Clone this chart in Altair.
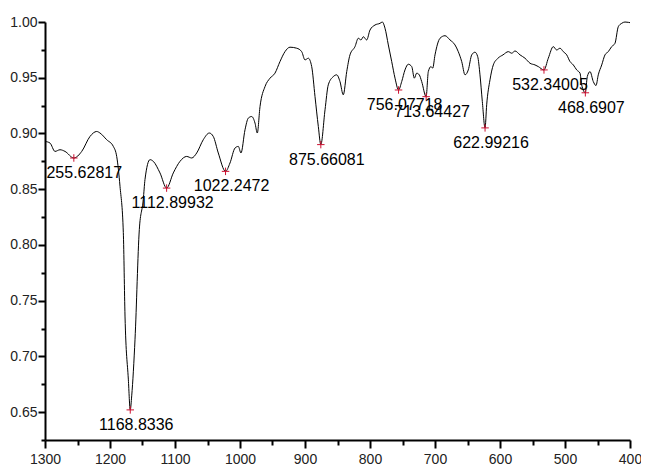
import altair as alt
import pandas as pd

# Spectrum trace (wavenumber, transmittance)
wavenumber = [
    1300.0, 1292.3, 1284.6, 1276.9, 1269.2, 1255.62817, 1243.5, 1230.8, 1220.5, 1215.4,
    1205.1, 1194.9, 1189.7, 1184.6, 1179.5, 1176.9, 1171.8, 1168.8336, 1166.6, 1161.5,
    1154.9, 1148.8, 1146.2, 1138.5, 1133.4, 1123.1, 1112.89932, 1102.6, 1092.3, 1082.0,
    1074.3, 1066.6, 1056.5, 1047.2, 1041.1, 1033.4, 1022.2472, 1015.4, 1007.7, 1002.6,
    998.5, 992.3, 987.2, 982.0, 976.9, 973.4, 969.2, 961.5, 953.8, 946.2,
    938.5, 930.8, 923.1, 912.8, 905.1, 900.0, 894.9, 889.7, 884.6, 879.5,
    875.66081, 869.2, 864.2, 856.5, 851.2, 846.2, 841.1, 835.8, 830.8, 823.1,
    818.0, 813.8, 810.3, 805.1, 800.0, 792.3, 784.6, 781.1, 776.9, 771.8,
    766.6, 761.5, 756.07718, 751.2, 746.2, 741.1, 735.8, 731.8, 728.2, 724.2,
    720.5, 713.64427, 710.3, 706.2, 703.5, 700.0, 692.3, 684.6, 676.9, 669.2,
    664.2, 658.9, 653.8, 648.8, 643.5, 638.5, 634.3, 630.8, 627.2, 622.99216,
    620.5, 615.4, 610.3, 603.1, 595.4, 587.2, 582.0, 576.9, 569.2, 561.5,
    553.8, 546.2, 541.1, 532.34005, 525.7, 518.0, 512.8, 507.7, 502.6, 497.4,
    492.3, 487.2, 482.0, 476.9, 474.3, 468.6907, 465.7, 461.5, 456.5, 452.3,
    448.8, 443.5, 438.5, 433.4, 428.2, 423.1, 418.0, 412.8, 407.7, 402.6,
    400.0,
]
transmittance = [
    0.8929, 0.8914, 0.8839, 0.8854, 0.8839, 0.8780, 0.8839, 0.8973, 0.9018, 0.9004,
    0.8944, 0.8884, 0.8794, 0.8526, 0.8111, 0.7362, 0.6796, 0.6520, 0.6646, 0.7154,
    0.8138, 0.8407, 0.8586, 0.8765, 0.8750, 0.8646, 0.8510, 0.8646, 0.8750, 0.8794,
    0.8780, 0.8825, 0.8944, 0.9004, 0.8973, 0.8825, 0.8660, 0.8735, 0.8869, 0.8884,
    0.8825, 0.9033, 0.9138, 0.9152, 0.9093, 0.9004, 0.9242, 0.9421, 0.9496, 0.9541,
    0.9645, 0.9734, 0.9774, 0.9765, 0.9734, 0.9660, 0.9675, 0.9600, 0.9331, 0.9063,
    0.8900, 0.9212, 0.9436, 0.9510, 0.9526, 0.9466, 0.9347, 0.9555, 0.9705, 0.9779,
    0.9854, 0.9839, 0.9868, 0.9839, 0.9928, 0.9973, 0.9988, 1.0000, 0.9944, 0.9794,
    0.9645, 0.9496, 0.9390, 0.9466, 0.9570, 0.9621, 0.9600, 0.9496, 0.9541, 0.9526,
    0.9466, 0.9330, 0.9555, 0.9600, 0.9586, 0.9705, 0.9854, 0.9877, 0.9839, 0.9794,
    0.9734, 0.9645, 0.9526, 0.9570, 0.9705, 0.9729, 0.9689, 0.9526, 0.9287, 0.9050,
    0.9257, 0.9481, 0.9615, 0.9675, 0.9705, 0.9734, 0.9720, 0.9740, 0.9705, 0.9675,
    0.9630, 0.9615, 0.9600, 0.9570, 0.9675, 0.9779, 0.9749, 0.9765, 0.9734, 0.9705,
    0.9645, 0.9615, 0.9570, 0.9541, 0.9436, 0.9365, 0.9510, 0.9555, 0.9466, 0.9430,
    0.9526, 0.9615, 0.9705, 0.9734, 0.9779, 0.9809, 0.9958, 0.9988, 1.0000, 0.9997,
    0.9994,
]

# Labelled peaks
peak_x = [1255.62817, 1168.8336, 1112.89932, 1022.2472, 875.66081,
          756.07718, 713.64427, 622.99216, 532.34005, 468.6907]
peak_y = [0.878, 0.652, 0.851, 0.866, 0.890, 0.939, 0.933, 0.905, 0.957, 0.9365]
peak_labels = ["1255.62817", "1168.8336", "1112.89932", "1022.2472", "875.66081",
               "756.07718", "713.64427", "622.99216", "532.34005", "468.6907"]

x_major = [1300, 1200, 1100, 1000, 900, 800, 700, 600, 500, 400]
x_minor = [1250, 1150, 1050, 950, 850, 750, 650, 550, 450]
y_major = [0.65, 0.70, 0.75, 0.80, 0.85, 0.90, 0.95, 1.00]
y_minor = [0.625, 0.675, 0.725, 0.775, 0.825, 0.875, 0.925, 0.975]

spec = pd.DataFrame({"wn": wavenumber, "t": transmittance})
peaks = pd.DataFrame({"wn": peak_x, "t": peak_y, "label": peak_labels})

xscale = alt.Scale(domain=[400, 1300], reverse=True, nice=False, zero=False)
yscale = alt.Scale(domain=[0.625, 1.0], nice=False, zero=False)

FONT = "Liberation Sans"

x_axis = alt.Axis(values=x_major, format="d", title=None, grid=False, orient="bottom",
                  tickSize=8, tickWidth=2, tickColor="black", domainColor="black",
                  domainWidth=2, labelFont=FONT, labelFontSize=14, labelColor="#222",
                  labelPadding=4, labelFlush=False, labelOverlap=False)
y_axis = alt.Axis(values=y_major, format=".2f", title=None, grid=False, orient="left",
                  tickSize=7, tickWidth=2, tickColor="black", domainColor="black",
                  domainWidth=2, labelFont=FONT, labelFontSize=14, labelColor="#222",
                  labelPadding=1, labelOverlap=False)
x_minor_axis = alt.Axis(values=x_minor, labels=False, title=None, grid=False, orient="bottom",
                        tickSize=5, tickWidth=2, tickColor="black", domain=False)
y_minor_axis = alt.Axis(values=y_minor, labels=False, title=None, grid=False, orient="left",
                        tickSize=4, tickWidth=2, tickColor="black", domain=False)

line = alt.Chart(spec).mark_line(color="black", strokeWidth=1, interpolate="monotone").encode(
    x=alt.X("wn:Q", scale=xscale, axis=x_axis),
    y=alt.Y("t:Q", scale=yscale, axis=y_axis),
    order=alt.Order("wn:Q", sort="descending"),
)

markers = alt.Chart(peaks).mark_point(
    shape="M-1,0L1,0M0,-1L0,1", size=56, filled=False, color="#cc1030", strokeWidth=1, opacity=1
).encode(
    x=alt.X("wn:Q", scale=xscale, axis=x_minor_axis),
    y=alt.Y("t:Q", scale=yscale, axis=y_minor_axis),
)

labels = alt.Chart(peaks).mark_text(
    font=FONT, fontSize=16, color="black", align="center", baseline="middle",
    dx=6, dy=15, clip=True
).encode(
    x=alt.X("wn:Q", scale=xscale, axis=None),
    y=alt.Y("t:Q", scale=yscale, axis=None),
    text="label:N",
)

chart = (
    alt.layer(line, markers, labels)
    .resolve_axis(x="independent", y="independent")
    .properties(
        width=585,
        height=418,
        autosize=alt.AutoSizeParams(type="none"),
        padding={"left": 37, "top": 14, "right": 11, "bottom": 27},
        background="white",
    )
    .configure_view(stroke=None)
)

chart.save("out.html", embed_options={"renderer": "svg", "actions": False})
